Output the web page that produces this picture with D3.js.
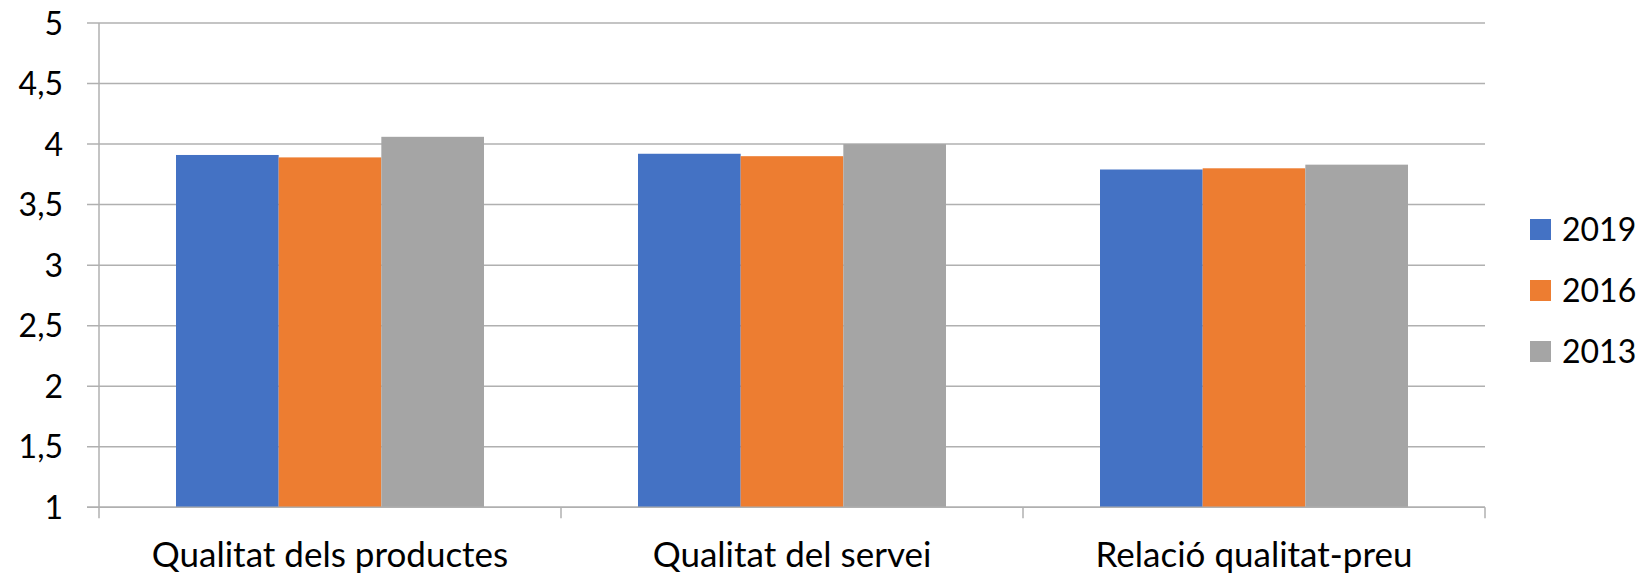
<!DOCTYPE html>
<html>
<head>
<meta charset="utf-8">
<script src="https://cdn.jsdelivr.net/npm/d3@7"></script>
<style>
  html, body { margin: 0; padding: 0; background: #fff; }
  svg text { font-family: Lato, "Open Sans", sans-serif; fill: #000; }
</style>
</head>
<body>
<svg id="chart" width="1645" height="577"></svg>
<script>
const categories = ["Qualitat dels productes", "Qualitat del servei", "Relació qualitat-preu"];
const seriesNames = ["2019", "2016", "2013"];
const values2019 = [3.91, 3.92, 3.79];
const values2016 = [3.89, 3.90, 3.80];
const values2013 = [4.06, 4.00, 3.83];
const yTicks = [1, 1.5, 2, 2.5, 3, 3.5, 4, 4.5, 5];
const yTickLabels = ["1", "1,5", "2", "2,5", "3", "3,5", "4", "4,5", "5"];
const colors = ["#4472C4", "#ED7D31", "#A5A5A5"];

(function () {
const seriesValues = [values2019, values2016, values2013];
const data = categories.map((c, i) => ({
  cat: c,
  vals: seriesNames.map((s, j) => ({ series: s, value: seriesValues[j][i], idx: j }))
}));

const svg = d3.select("#chart");
const mLeft = 99, mRight = 1485, mTop = 23, mBottom = 507.3;

const x = d3.scaleBand().domain(categories).range([mLeft, mRight]).paddingInner(0).paddingOuter(0);
const y = d3.scaleLinear().domain([1, 5]).range([mBottom, mTop]);
// gap width 150%: band = 3 bars + 1.5 bar
const x1 = d3.scaleBand().domain(seriesNames)
  .range([0, x.bandwidth()]).paddingInner(0).paddingOuter(0.75);

const gridColor = "#b0b0b0";

// gridlines
svg.append("g").selectAll("line").data(yTicks).join("line")
  .attr("x1", mLeft - 12).attr("x2", mRight)
  .attr("y1", d => y(d)).attr("y2", d => y(d))
  .attr("stroke", gridColor).attr("stroke-width", 1.5);

// y axis line
svg.append("line").attr("x1", mLeft).attr("x2", mLeft)
  .attr("y1", mTop).attr("y2", mBottom + 11)
  .attr("stroke", gridColor).attr("stroke-width", 1.5);

// x category ticks
const bounds = categories.map(c => x(c)).concat([mRight]);
svg.append("g").selectAll("line").data(bounds.slice(1)).join("line")
  .attr("x1", d => d).attr("x2", d => d)
  .attr("y1", mBottom).attr("y2", mBottom + 11)
  .attr("stroke", gridColor).attr("stroke-width", 1.5);

// bars
const groups = svg.append("g").selectAll("g").data(data).join("g")
  .attr("transform", d => `translate(${x(d.cat)},0)`);
groups.selectAll("rect").data(d => d.vals).join("rect")
  .attr("x", d => x1(d.series))
  .attr("width", x1.bandwidth())
  .attr("y", d => y(d.value))
  .attr("height", d => y(1) - y(d.value))
  .attr("fill", d => colors[d.idx]);

// baseline on top
svg.append("line").attr("x1", mLeft - 12).attr("x2", mRight)
  .attr("y1", mBottom).attr("y2", mBottom)
  .attr("stroke", gridColor).attr("stroke-width", 1.5);

// y labels
svg.append("g").selectAll("text").data(yTicks).join("text")
  .attr("x", 63).attr("y", d => y(d))
  .attr("dy", "0.36em")
  .attr("text-anchor", "end")
  .style("font-size", "32px")
  .text((d, i) => yTickLabels[i]);

// x labels
svg.append("g").selectAll("text").data(categories).join("text")
  .attr("x", d => x(d) + x.bandwidth() / 2)
  .attr("y", 567)
  .attr("text-anchor", "middle")
  .style("font-size", "35px")
  .text(d => d);

// legend
const legend = svg.append("g").selectAll("g").data(seriesNames).join("g")
  .attr("transform", (d, i) => `translate(1530, ${219 + i * 61})`);
legend.append("rect").attr("width", 21).attr("height", 21)
  .attr("fill", (d, i) => colors[i]);
legend.append("text").attr("x", 32).attr("y", 10.5).attr("dy", "0.36em")
  .style("font-size", "32px").text(d => d);
})();
</script>
</body>
</html>
